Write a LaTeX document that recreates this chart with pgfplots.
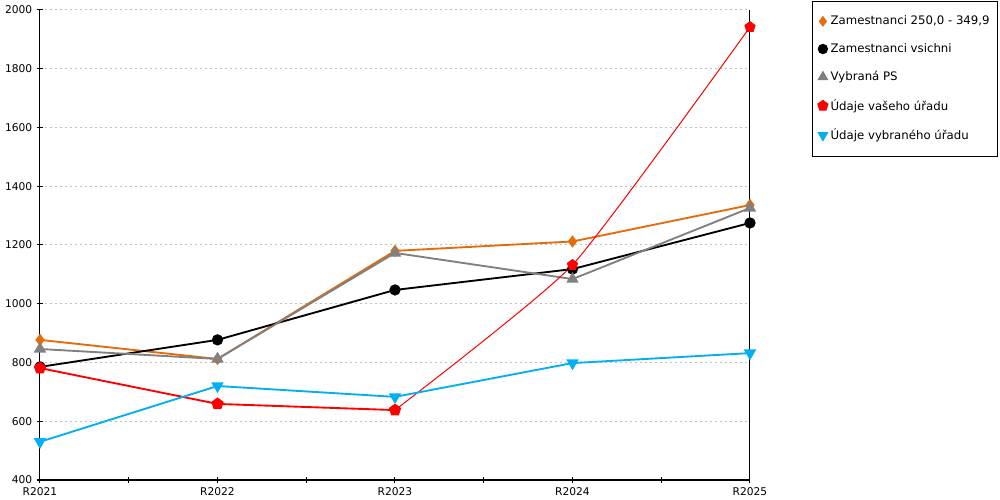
\documentclass[border=0pt]{standalone}
\usepackage{fontspec}
\setmainfont{DejaVu Sans}
\usepackage{pgfplots}
\pgfplotsset{compat=1.18}
\definecolor{cOr}{RGB}{228,108,10}
\definecolor{cBl}{RGB}{0,176,240}
\definecolor{cGr}{RGB}{128,128,128}
\definecolor{cGrid}{RGB}{192,192,192}
\begin{document}
\begin{tikzpicture}
\path[use as bounding box] (-30pt,-15pt) rectangle (720pt,360pt);
\begin{axis}[
  at={(0,0)}, anchor=south west,
  scale only axis, width=532.5pt, height=352.5pt,
  xmin=0, xmax=4, ymin=400, ymax=2000,
  axis lines=left, axis line style={-, line width=0.75pt},
  xtick={0,1,2,3,4},
  xticklabels={R2021,R2022,R2023,R2024,R2025},
  minor xtick={0.5,1.5,2.5,3.5},
  ytick={400,600,...,2000},
  tick align=center, major tick length=4.5pt, minor tick length=4.5pt,
  tick style={black, line width=0.75pt},
  ymajorgrids, grid style={cGrid, line width=0.75pt, dash pattern=on 1.5pt off 2.25pt},
  /pgf/number format/assume math mode=true,
  /pgf/number format/1000 sep={},
  font=\fontsize{8}{10}\selectfont,
  ticklabel style={font=\fontsize{8}{10}\selectfont},
  clip=false,
  legend style={at={(1,1)}, anchor=north west, xshift=46.5pt, yshift=6.75pt,
    draw=black, line width=0.75pt, font=\fontsize{8.8}{10}\selectfont,
    cells={anchor=west}, row sep=8.55pt, inner xsep=4pt, inner ysep=8.8pt},
  legend cell align=left,
]
\addplot[cOr, line width=1.4pt, mark=diamond*, mark size=3.5pt, forget plot]
  coordinates {(0,877) (1,812) (2,1180) (3,1212) (4,1336)};
\addplot[black, line width=1.4pt, mark=*, mark size=3.5pt, forget plot]
  coordinates {(0,785) (1,877) (2,1047) (3,1118) (4,1275)};
\addplot[cGr, line width=1.4pt, mark=triangle*, mark size=4pt, forget plot]
  coordinates {(0,846) (1,812) (2,1173) (3,1084) (4,1326)};
\addplot[red, line width=1.4pt, mark=pentagon*, mark size=4pt, forget plot]
  coordinates {(0,781) (1,659) (2,638)};
\addplot[red, line width=0.75pt, smooth, tension=0.3, mark=pentagon*, mark size=4pt, forget plot]
  coordinates {(2,638) (3,1132) (4,1942)};
\addplot[cBl, line width=1.4pt, mark=triangle*, mark options={rotate=180}, mark size=4pt, forget plot]
  coordinates {(0,530) (1,720) (2,683) (3,798) (4,832)};
\draw[line width=0.75pt] (rel axis cs:1,0) -- (rel axis cs:1,1);
\addlegendimage{only marks, cOr, mark=diamond*, mark size=3.5pt}
\addlegendentry{Zamestnanci 250,0 - 349,9}
\addlegendimage{only marks, black, mark=*, mark size=3.5pt}
\addlegendentry{Zamestnanci vsichni}
\addlegendimage{only marks, cGr, mark=triangle*, mark size=4pt}
\addlegendentry{Vybraná PS}
\addlegendimage{only marks, red, mark=pentagon*, mark size=4pt}
\addlegendentry{Údaje vašeho úřadu}
\addlegendimage{only marks, cBl, mark=triangle*, mark options={rotate=180}, mark size=4pt}
\addlegendentry{Údaje vybraného úřadu}
\end{axis}
\end{tikzpicture}
\end{document}
